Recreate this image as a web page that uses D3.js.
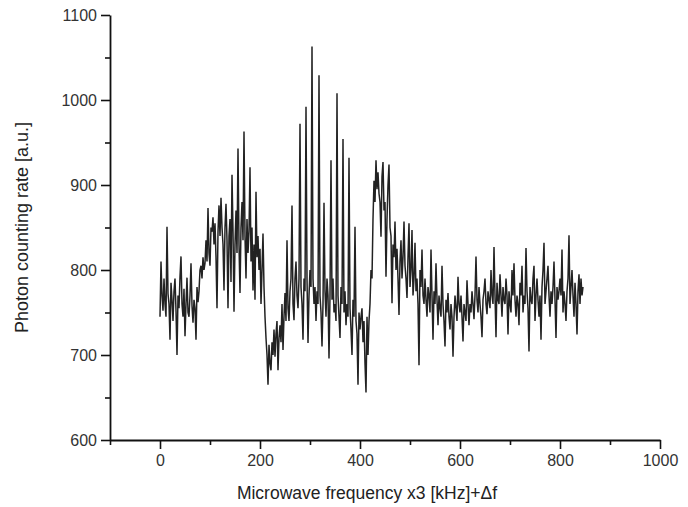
<!DOCTYPE html>
<html>
<head>
<meta charset="utf-8">
<script src="https://cdn.jsdelivr.net/npm/d3@7"></script>
<style>
  html, body { margin: 0; padding: 0; background: #fff; }
  svg { display: block; font-family: "Liberation Sans", Arial, sans-serif; }
</style>
</head>
<body>
<svg id="chart" width="688" height="507"></svg>
<script>
// ---- data: [frequency (kHz), photon counting rate] ----
const scan = [
  [0,745],[2,810],[4,770],[6,752],[8,790],[10,760],[12,745],[14,851],[16,772],[18,760],
  [20,718],[22,785],[24,765],[26,740],[28,775],[30,790],[32,752],[34,700],[36,770],[38,755],
  [40,792],[42,816],[44,760],[46,745],[48,778],[50,722],[52,760],[54,791],[56,750],[58,745],
  [60,770],[62,808],[64,758],[66,738],[68,765],[70,755],[72,718],[74,780],[76,762],[78,775],
  [80,800],[82,805],[84,790],[86,815],[88,800],[90,808],[92,835],[94,810],[96,873],[98,820],
  [100,805],[102,850],[104,845],[106,862],[108,830],[110,855],[112,815],[114,755],[116,845],[118,876],
  [120,840],[122,885],[124,850],[126,830],[128,776],[130,850],[132,878],[134,835],[136,755],[138,840],
  [140,860],[142,786],[144,912],[146,845],[148,751],[150,830],[152,870],[154,820],[156,943],[158,830],
  [160,773],[162,850],[164,880],[166,835],[168,963],[170,840],[172,790],[174,860],[176,820],[178,845],
  [180,921],[182,810],[184,850],[186,776],[188,830],[190,765],[192,892],[194,815],[196,840],[198,800],
  [200,825],[202,760],[204,800],[206,843],[208,780],[210,745],[212,720],[214,700],[216,665],[218,712],
  [220,690],[222,682],[224,715],[226,700],[228,730],[230,698],[232,725],[234,740],[236,682],[238,720],
  [240,735],[242,715],[244,760],[246,706],[248,745],[250,773],[252,740],[254,835],[256,755],[258,740],
  [260,775],[262,790],[264,876],[266,760],[268,741],[270,790],[272,810],[274,770],[276,755],[278,790],
  [280,972],[282,780],[284,760],[286,718],[288,790],[290,775],[292,992],[294,790],[296,714],[298,770],
  [300,800],[302,780],[304,1063],[306,790],[308,760],[310,780],[312,740],[314,775],[316,760],[318,1029],
  [320,770],[322,750],[324,710],[326,760],[328,879],[330,775],[332,745],[334,790],[336,770],[338,696],
  [340,770],[342,929],[344,765],[346,790],[348,750],[350,760],[352,740],[354,1008],[356,770],[358,745],
  [360,720],[362,780],[364,760],[366,954],[368,750],[370,775],[372,735],[374,760],[376,745],[378,932],
  [380,755],[382,730],[384,700],[386,765],[388,745],[390,851],[392,740],[394,725],[396,665],[398,750],
  [400,730],[402,745],[404,755],[406,715],[408,740],[410,690],[412,656],[414,745],[416,700],[418,740],
  [420,760],[422,800],[424,790],[426,860],[428,905],[430,880],[432,929],[434,895],[436,915],[438,890],
  [440,880],[442,839],[444,910],[446,927],[448,870],[450,880],[452,792],[454,860],[456,900],[458,924],
  [460,850],[462,840],[464,761],[466,830],[468,815],[470,857],[472,800],[474,825],[476,790],[478,747],
  [480,810],[482,835],[484,790],[486,815],[488,857],[490,805],[492,790],[494,767],[496,815],[498,855],
  [500,780],[502,800],[504,847],[506,770],[508,790],[510,832],[512,775],[514,790],[516,760],[518,688],
  [520,800],[522,780],[524,824],[526,770],[528,760],[530,790],[532,765],[534,745],[536,780],[538,770],
  [540,750],[542,824],[544,770],[546,718],[548,775],[550,760],[552,808],[554,765],[556,735],[558,770],
  [560,755],[562,745],[564,805],[566,760],[568,740],[570,710],[572,765],[574,750],[576,773],[578,745],
  [580,730],[582,760],[584,745],[586,698],[588,745],[590,770],[592,755],[594,740],[596,792],[598,760],
  [600,750],[602,770],[604,745],[606,716],[608,760],[610,750],[612,740],[614,788],[616,760],[618,735],
  [620,760],[622,750],[624,775],[626,760],[628,742],[630,770],[632,816],[634,765],[636,750],[638,780],
  [640,760],[642,745],[644,721],[646,765],[648,775],[650,790],[652,760],[654,748],[656,775],[658,765],
  [660,755],[662,800],[664,770],[666,760],[668,827],[670,770],[672,721],[674,785],[676,765],[678,760],
  [680,795],[682,770],[684,745],[686,780],[688,765],[690,760],[692,790],[694,770],[696,724],[698,775],
  [700,760],[702,750],[704,800],[706,770],[708,808],[710,765],[712,745],[714,770],[716,760],[718,735],
  [720,785],[722,770],[724,805],[726,750],[728,770],[730,760],[732,826],[734,775],[736,755],[738,704],
  [740,780],[742,765],[744,760],[746,790],[748,805],[750,740],[752,770],[754,790],[756,765],[758,745],
  [760,770],[762,718],[764,780],[766,800],[768,832],[770,760],[772,775],[774,790],[776,805],[778,770],
  [780,745],[782,775],[784,760],[786,780],[788,810],[790,765],[792,720],[794,780],[796,765],[798,775],
  [800,790],[802,770],[804,824],[806,750],[808,775],[810,760],[812,740],[814,775],[816,790],[818,841],
  [820,760],[822,780],[824,800],[826,770],[828,745],[830,785],[832,760],[834,724],[836,775],[838,795],
  [840,760],[842,790],[844,770],[846,780]
];
const xMajorTicks = [0, 200, 400, 600, 800, 1000];
const xMinorTicks = [-100, 100, 300, 500, 700, 900];
const yMajorTicks = [600, 700, 800, 900, 1000, 1100];
const yMinorTicks = [650, 750, 850, 950, 1050];
const xTitle = "Microwave frequency x3 [kHz]+\u0394f";
const yTitle = "Photon counting rate [a.u.]";

const points = scan.map(d => ({ f: d[0], r: d[1] }));

// ---- layout ----
const svg = d3.select("#chart");
const x = d3.scaleLinear().domain([-100, 1000]).range([110, 660]);
const y = d3.scaleLinear().domain([600, 1100]).range([440, 15]);

const axisColor = "#111";
const fontSize = 16;

// data line
svg.append("path")
  .datum(points)
  .attr("fill", "none")
  .attr("stroke", "#222")
  .attr("stroke-width", 1.5)
  .attr("stroke-linejoin", "miter")
  .attr("d", d3.line().x(d => x(d.f)).y(d => y(d.r)));

// x axis
const gx = svg.append("g").attr("transform", `translate(0,${y(600)})`);
gx.call(d3.axisBottom(x).tickValues(xMajorTicks).tickSize(9).tickPadding(6).tickSizeOuter(0).tickFormat(d3.format("d")));
const gxm = svg.append("g").attr("transform", `translate(0,${y(600)})`);
gxm.call(d3.axisBottom(x).tickValues(xMinorTicks).tickSize(5).tickSizeOuter(0).tickFormat(""));
gxm.select(".domain").remove();

// y axis
const gy = svg.append("g").attr("transform", `translate(${x(-100)},0)`);
gy.call(d3.axisLeft(y).tickValues(yMajorTicks).tickSize(9).tickPadding(4).tickSizeOuter(0).tickFormat(d3.format("d")));
const gym = svg.append("g").attr("transform", `translate(${x(-100)},0)`);
gym.call(d3.axisLeft(y).tickValues(yMinorTicks).tickSize(5).tickSizeOuter(0).tickFormat(""));
gym.select(".domain").remove();

svg.selectAll(".domain").attr("stroke", axisColor).attr("stroke-width", 1.8);
svg.selectAll(".tick line").attr("stroke", axisColor).attr("stroke-width", 1.6);
svg.selectAll(".tick text")
  .attr("fill", "#333")
  .style("font-size", fontSize + "px")
  .style("font-family", "'Liberation Sans', Arial, sans-serif");

// titles
svg.append("text")
  .attr("x", 367)
  .attr("y", 499)
  .attr("text-anchor", "middle")
  .attr("fill", "#222")
  .style("font-size", "17.5px")
  .text(xTitle);

svg.append("text")
  .attr("transform", `translate(28,${(y(600) + y(1100)) / 2}) rotate(-90)`)
  .attr("text-anchor", "middle")
  .attr("fill", "#222")
  .style("font-size", "18px")
  .text(yTitle);
</script>
</body>
</html>
